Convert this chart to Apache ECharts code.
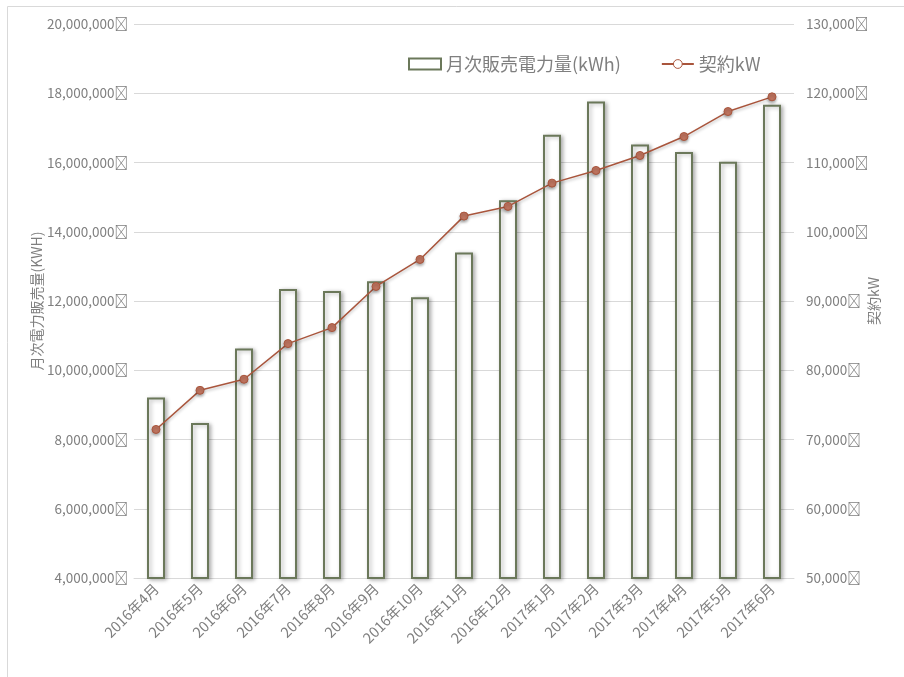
<!DOCTYPE html>
<html><head><meta charset="utf-8">
<script src="https://cdn.jsdelivr.net/npm/echarts@6/dist/echarts.min.js"></script>
<style>html,body{margin:0;padding:0;background:#fff}#c{width:904px;height:677px}</style>
</head><body><div id="c"></div>
<script>
const categories = ['2016年4月','2016年5月','2016年6月','2016年7月','2016年8月','2016年9月','2016年10月','2016年11月','2016年12月','2017年1月','2017年2月','2017年3月','2017年4月','2017年5月','2017年6月'];
const salesKWh = [9210000, 8480000, 10630000, 12350000, 12290000, 12570000, 12110000, 13400000, 14910000, 16800000, 17760000, 16520000, 16300000, 16020000, 17670000];
const contractKW = [71450, 77100, 78700, 83850, 86160, 92100, 96000, 102260, 103660, 107020, 108850, 111010, 113750, 117360, 119480];
const seriesNames = ['月次販売電力量(kWh)', '契約kW'];
const leftAxisName = '月次電力販売量(KWH)';
const rightAxisName = '契約kW';

const FONT = '"Noto Sans CJK JP", "Noto Sans", sans-serif';
const GRAY = '#7f7f7f';
const fmt = v => v.toLocaleString('en-US') + '\uE000';

const chart = echarts.init(document.getElementById('c'), null, {renderer: 'canvas'});
chart.setOption({
  animation: false,
  textStyle: {fontFamily: FONT},
  graphic: [{type: 'rect', left: 5, top: 4, shape: {width: 1000, height: 1000}, style: {fill: 'none', stroke: '#d9d9d9', lineWidth: 1}, silent: true}],
  legend: {
    left: 403, top: 50, itemWidth: 32, itemHeight: 11, itemGap: 40,
    textStyle: {fontSize: 18, color: GRAY, fontFamily: FONT},
    data: [{name: seriesNames[0], icon: 'rect'},
           {name: seriesNames[1], itemStyle: {color: '#ffffff', borderColor: '#a9553c', borderWidth: 1}}]
  },
  grid: {left: 134, right: 110, top: 24, bottom: 99},
  xAxis: {
    type: 'category', data: categories,
    axisLine: {lineStyle: {color: '#d9d9d9', width: 1}},
    axisTick: {show: false},
    axisLabel: {rotate: 45, fontSize: 14.5, color: GRAY, margin: 8, interval: 0, fontFamily: FONT}
  },
  yAxis: [{
    type: 'value', min: 4000000, max: 20000000, interval: 2000000,
    name: leftAxisName, nameLocation: 'middle', nameRotate: 90, nameGap: 90, nameMoveOverlap: false,
    nameTextStyle: {fontSize: 14, color: GRAY, fontFamily: FONT},
    axisLabel: {formatter: fmt, fontSize: 13.5, color: GRAY, margin: 6, fontFamily: FONT},
    axisLine: {show: false}, axisTick: {show: false},
    splitLine: {lineStyle: {color: '#d9d9d9', width: 1}}
  }, {
    type: 'value', min: 50000, max: 130000, interval: 10000,
    name: rightAxisName, nameLocation: 'middle', nameRotate: 90, nameGap: 73, nameMoveOverlap: false,
    nameTextStyle: {fontSize: 14, color: GRAY, fontFamily: FONT},
    axisLabel: {formatter: fmt, fontSize: 13.5, color: GRAY, margin: 12, fontFamily: FONT},
    axisLine: {show: false}, axisTick: {show: false},
    splitLine: {show: false}
  }],
  series: [{
    name: seriesNames[0], type: 'bar', data: salesKWh, yAxisIndex: 0, barWidth: 18,
    itemStyle: {color: '#ffffff', borderColor: '#6b785a', borderWidth: 2,
      shadowBlur: 4, shadowOffsetX: 2, shadowOffsetY: 1, shadowColor: 'rgba(0,0,0,0.3)'}
  }, {
    name: seriesNames[1], type: 'line', data: contractKW, yAxisIndex: 1,
    symbol: 'circle', symbolSize: 8,
    lineStyle: {color: '#a9553c', width: 1.5, shadowBlur: 3, shadowOffsetY: 2, shadowColor: 'rgba(0,0,0,0.25)'},
    itemStyle: {color: '#c07560', borderColor: '#a9553c', borderWidth: 1,
      shadowBlur: 3, shadowOffsetY: 2, shadowColor: 'rgba(0,0,0,0.3)'}
  }]
});
</script></body></html>
